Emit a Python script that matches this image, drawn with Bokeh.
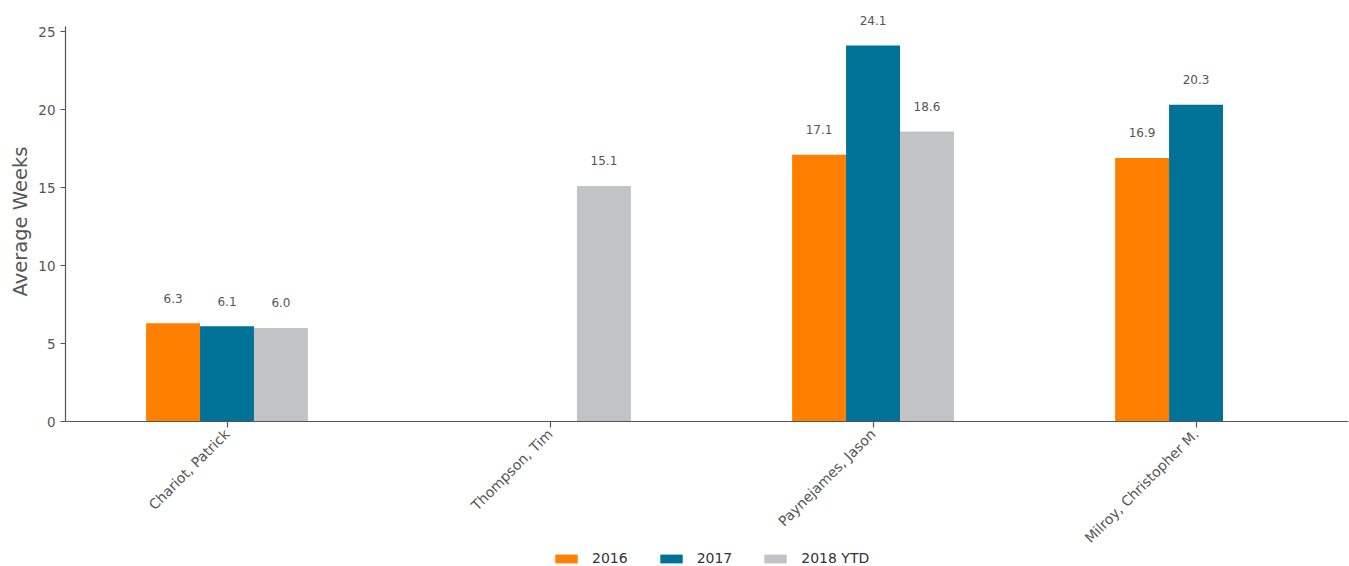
import math
from bokeh.plotting import figure
from bokeh.models import ColumnDataSource, Range1d, FixedTicker, Legend, LegendItem, Title
from bokeh.transform import dodge
from bokeh.core.properties import value
from bokeh.embed import file_html
from bokeh.resources import INLINE

names = ["Chariot, Patrick", "Thompson, Tim", "Paynejames, Jason", "Milroy, Christopher M."]
series = ["2016", "2017", "2018 YTD"]
v2016 = [6.3, None, 17.1, 16.9]
v2017 = [6.1, None, 24.1, 20.3]
v2018 = [6.0, 15.1, 18.6, None]
colors = ["#FF8000", "#007298", "#C2C3C5"]
y_ticks = [0, 5, 10, 15, 20, 25]

FONT = value("DejaVu Sans")
GREY = "#555555"

# frame spans the whole lower area so that the legend (drawn in the frame) can sit at the bottom;
# the x axis is pinned at y = 0
p = figure(width=1349, height=566, output_backend="svg", toolbar_location=None,
           x_range=Range1d(-0.5, 3.472), y_range=Range1d(-9.295, 26.35),
           min_border_left=65, min_border_right=1, min_border_top=10, min_border_bottom=0)
p.outline_line_color = None
p.xgrid.visible = False
p.ygrid.visible = False

bar_w = 0.167
offsets = [-bar_w, 0.0, bar_w]
items = []
for s, vals, c, off in zip(series, [v2016, v2017, v2018], colors, offsets):
    xs = [i for i, v in enumerate(vals) if v is not None]
    vs = [v for v in vals if v is not None]
    src = ColumnDataSource(dict(x=xs, v=vs, lbl=["%.1f" % v for v in vs]))
    r = p.vbar(x=dodge("x", off), top="v", bottom=0, width=bar_w, source=src,
               fill_color=c, line_color=None)
    p.text(x=dodge("x", off), y="v", text="lbl", source=src, text_align="center",
           text_baseline="middle", y_offset=-25, text_font_size="12px",
           text_color=GREY, text_font=FONT)
    items.append(LegendItem(label=s, renderers=[r]))

# x axis
p.xaxis.fixed_location = 0
p.xaxis.ticker = FixedTicker(ticks=list(range(len(names))))
p.xaxis.major_label_overrides = {i: n for i, n in enumerate(names)}
p.xaxis.major_label_orientation = math.pi / 4
p.xaxis.minor_tick_line_color = None
p.xaxis.major_tick_in = 0
p.xaxis.major_tick_out = 6
p.xaxis.major_label_standoff = 4
p.xaxis.major_label_text_font_size = "14px"

# y axis
p.yaxis.ticker = FixedTicker(ticks=y_ticks)
p.yaxis.bounds = (0, 25.3)
p.yaxis.minor_tick_line_color = None
p.yaxis.major_tick_in = 0
p.yaxis.major_tick_out = 5
p.yaxis.major_label_text_font_size = "13.5px"

for ax in (p.xaxis, p.yaxis):
    ax.axis_line_color = GREY
    ax.axis_line_width = 1.2
    ax.major_tick_line_color = GREY
    ax.major_tick_line_width = 1.2
    ax.major_label_text_font = "DejaVu Sans"
    ax.major_label_text_color = GREY

# y axis title, centred on the 0..25 part of the axis
ytitle = Title(text="Average Weeks", align="left", offset=270, standoff=8,
               text_font_size="19.5px", text_font_style="normal",
               text_color=GREY, text_font="DejaVu Sans")
p.add_layout(ytitle, "left")

legend = Legend(items=items, orientation="horizontal", location=(487, 0),
                padding=0, margin=0, spacing=29, label_standoff=12,
                glyph_width=28, glyph_height=11, label_height=14,
                border_line_color=None, background_fill_alpha=0,
                label_text_font="DejaVu Sans", label_text_font_size="14px",
                label_text_color="#333333")
p.add_layout(legend)

open("out.html", "w").write(file_html(p, INLINE))
